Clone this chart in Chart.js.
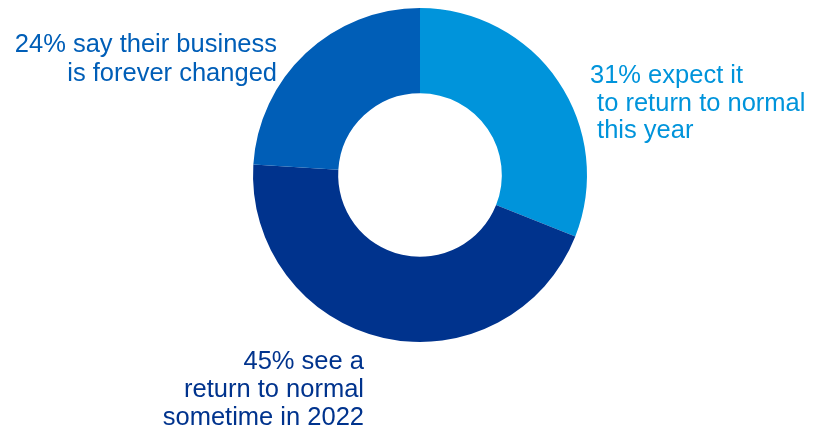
<!DOCTYPE html>
<html>
<head>
<meta charset="utf-8">
<script src="https://cdn.jsdelivr.net/npm/chart.js@4/dist/chart.umd.min.js"></script>
<style>
  html, body { margin: 0; padding: 0; background: #fff; }
  #wrap { width: 814px; height: 430px; position: relative; }
</style>
</head>
<body>
<div id="wrap"><canvas id="donut"></canvas></div>
<script>
"use strict"
// share of respondents per outlook
const categories = ['expect normal this year', 'normal sometime in 2022', 'business forever changed']
const values = [31, 45, 24]
const colors = ['#0094db', '#00338d', '#005eb7']
const labelLines = [
  ['31% expect it', ' to return to normal', ' this year'],
  ['45% see a', 'return to normal', 'sometime in 2022'],
  ['24% say their business', 'is forever changed']
]

// where each callout sits, relative to the donut centre
const callouts = [
  { dx: 170, dy: -99, gap: 27.5, align: 'left' },
  { dx: -56, dy: 187, gap: 28, align: 'right' },
  { dx: -143, dy: -130, gap: 28.5, align: 'right' }
]

const calloutPlugin = {
  id: 'callouts',
  afterDraw(chart) {
    const c = chart.ctx
    const arc = chart.getDatasetMeta(0).data[0]
    const cx = arc.x, cy = arc.y
    c.save()
    c.font = '25.5px "Liberation Sans", Arial, sans-serif'
    c.textBaseline = 'middle'
    labelLines.forEach((lines, i) => {
      const p = callouts[i]
      c.fillStyle = colors[i]
      c.textAlign = p.align
      lines.forEach((t, j) => {
        c.fillText(t, cx + p.dx, cy + p.dy + j * p.gap)
      })
    })
    c.restore()
  }
}

new Chart(document.getElementById('donut'), {
  type: 'doughnut',
  data: {
    labels: categories,
    datasets: [{
      data: values,
      backgroundColor: colors,
      borderWidth: 0
    }]
  },
  options: {
    responsive: true,
    maintainAspectRatio: false,
    animation: false,
    cutout: '49%',
    layout: { padding: { top: 8, bottom: 88, left: 253, right: 227 } },
    plugins: {
      legend: { display: false },
      tooltip: { enabled: false }
    }
  },
  plugins: [calloutPlugin]
})
</script>
</body>
</html>
